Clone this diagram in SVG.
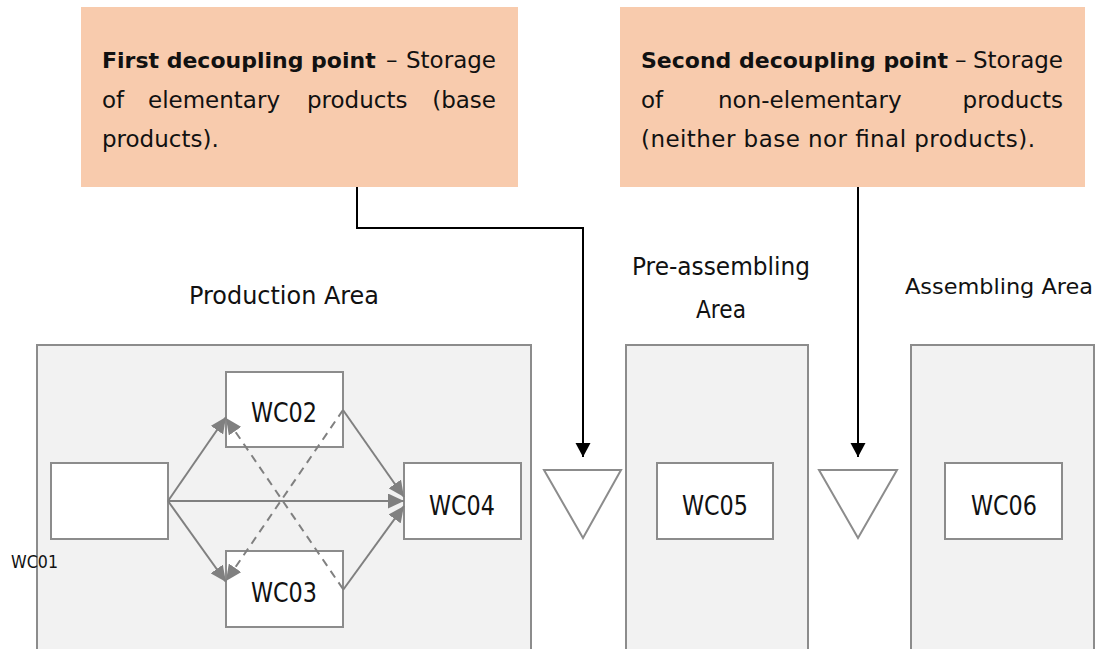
<svg xmlns="http://www.w3.org/2000/svg" width="1104" height="649" viewBox="0 0 1104 649">
<defs>
<style>
.t{font-family:"DejaVu Sans","Liberation Sans",sans-serif;font-size:23px;fill:#111}
.b{font-weight:bold;font-size:22px}
.lab{font-size:25px}
.wcl{font-size:27px}
.note{fill:#f8cbad}
.area{fill:#f2f2f2;stroke:#8c8c8c;stroke-width:2}
.wc{fill:#fff;stroke:#8c8c8c;stroke-width:2}
.stor{fill:#fff;stroke:#8c8c8c;stroke-width:2}
.g{fill:none;stroke:#808080;stroke-width:2}
.d{stroke-dasharray:8 6}
.k{fill:none;stroke:#000;stroke-width:2}
</style>
<marker id="ag" markerUnits="userSpaceOnUse" markerWidth="17" markerHeight="15" refX="16" refY="7.5" orient="auto">
<path d="M0,0 L16,7.5 L0,15 z" fill="#808080"/>
</marker>
<marker id="ak" markerUnits="userSpaceOnUse" markerWidth="16" markerHeight="16" refX="14" refY="7.5" orient="auto">
<path d="M0,0 L14,7.5 L0,15 z" fill="#000"/>
</marker>
</defs>

<g id="note1">
<rect class="note" x="81" y="7" width="437" height="180"/>
<text class="t b" x="102" y="68">First decoupling point</text>
<text class="t" x="386" y="68">–</text>
<text class="t" x="496" y="68" text-anchor="end">Storage</text>
<text class="t" x="102" y="108">of</text>
<text class="t" x="148" y="108">elementary</text>
<text class="t" x="307" y="108">products</text>
<text class="t" x="496" y="108" text-anchor="end">(base</text>
<text class="t" x="102" y="147">products).</text>
</g>

<g id="note2">
<rect class="note" x="620" y="7" width="465" height="180"/>
<text class="t b" x="641" y="68">Second decoupling point</text>
<text class="t" x="955" y="68">–</text>
<text class="t" x="1063" y="68" text-anchor="end">Storage</text>
<text class="t" x="641" y="108">of</text>
<text class="t" x="718" y="108">non-elementary</text>
<text class="t" x="1063" y="108" text-anchor="end">products</text>
<text class="t" x="641" y="147" textLength="394" lengthAdjust="spacing">(neither base nor final products).</text>
</g>

<g id="production-area">
<rect class="area" x="37" y="345" width="494" height="320"/>
<text class="t lab" x="189" y="304" textLength="190" lengthAdjust="spacingAndGlyphs">Production Area</text>
</g>
<g id="preassembling-area">
<rect class="area" x="626" y="345" width="182" height="320"/>
<text class="t lab" x="632" y="275" textLength="178" lengthAdjust="spacingAndGlyphs">Pre-assembling</text>
<text class="t lab" x="696" y="318" textLength="50" lengthAdjust="spacingAndGlyphs">Area</text>
</g>
<g id="assembling-area">
<rect class="area" x="911" y="345" width="183" height="320"/>
<text class="t" x="905" y="294" style="font-size:22px" textLength="188" lengthAdjust="spacingAndGlyphs">Assembling Area</text>
</g>

<g id="WC01">
<rect class="wc" x="51" y="463" width="117" height="76"/>
<text class="t" x="11" y="568" style="font-size:18px" textLength="47" lengthAdjust="spacingAndGlyphs">WC01</text>
</g>
<g id="WC02">
<rect class="wc" x="226" y="372" width="117" height="75"/>
<text class="t wcl" x="251" y="422" textLength="66" lengthAdjust="spacingAndGlyphs">WC02</text>
</g>
<g id="WC03">
<rect class="wc" x="226" y="551" width="117" height="76"/>
<text class="t wcl" x="251" y="602" textLength="66" lengthAdjust="spacingAndGlyphs">WC03</text>
</g>
<g id="WC04">
<rect class="wc" x="404" y="463" width="117" height="76"/>
<text class="t wcl" x="429" y="515" textLength="66" lengthAdjust="spacingAndGlyphs">WC04</text>
</g>
<g id="WC05">
<rect class="wc" x="657" y="463" width="116" height="76"/>
<text class="t wcl" x="682" y="515" textLength="66" lengthAdjust="spacingAndGlyphs">WC05</text>
</g>
<g id="WC06">
<rect class="wc" x="945" y="463" width="117" height="76"/>
<text class="t wcl" x="971" y="515" textLength="66" lengthAdjust="spacingAndGlyphs">WC06</text>
</g>
<g id="storage1">
<polygon class="stor" points="544,470 621,470 583,538"/>
</g>
<g id="storage2">
<polygon class="stor" points="819,470 897,470 858,538"/>
</g>

<g id="connectors">
<line class="g" x1="168" y1="501" x2="226" y2="417" marker-end="url(#ag)"/>
<line class="g" x1="168" y1="501" x2="226" y2="582" marker-end="url(#ag)"/>
<line class="g" x1="168" y1="501" x2="404" y2="501" marker-end="url(#ag)"/>
<line class="g" x1="343" y1="410" x2="404" y2="497" marker-end="url(#ag)"/>
<line class="g" x1="343" y1="590" x2="404" y2="506" marker-end="url(#ag)"/>
<line class="g d" x1="343" y1="589" x2="226" y2="418" marker-end="url(#ag)"/>
<line class="g d" x1="343" y1="410" x2="226" y2="581" marker-end="url(#ag)"/>
<path class="k" d="M357,187 V228 H583 V457" marker-end="url(#ak)"/>
<path class="k" d="M858,187 V457" marker-end="url(#ak)"/>
</g>
</svg>
